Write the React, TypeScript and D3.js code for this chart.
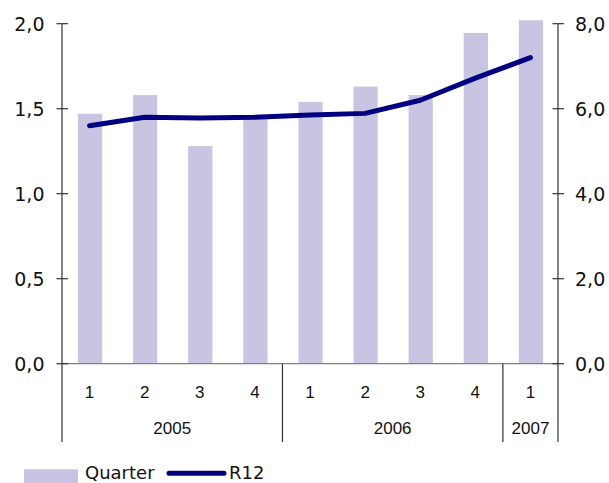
import React from "react";
import * as d3 from "d3";

const quarters = ["1", "2", "3", "4", "1", "2", "3", "4", "1"];
const years = [
  { label: "2005", start: 0, end: 4 },
  { label: "2006", start: 4, end: 8 },
  { label: "2007", start: 8, end: 9 },
];
const quarterValues = [1.47, 1.58, 1.28, 1.45, 1.54, 1.63, 1.58, 1.945, 2.02];
const r12Values = [5.6, 5.8, 5.78, 5.8, 5.85, 5.89, 6.2, 6.72, 7.2];
const leftTicks = [0, 0.5, 1.0, 1.5, 2.0];
const rightTicks = [0, 2, 4, 6, 8];

const W = 609;
const H = 483;
const left = 62;
const right = 558;
const top = 23.7;
const bottom = 363.7;

export default function App() {
  const x = d3
    .scaleBand<number>()
    .domain(d3.range(quarters.length))
    .range([left, right])
    .paddingInner(0)
    .paddingOuter(0);
  const yL = d3.scaleLinear().domain([0, 2]).range([bottom, top]);
  const yR = d3.scaleLinear().domain([0, 8]).range([bottom, top]);
  const barW = x.bandwidth() * 0.44;
  const line = d3
    .line<number>()
    .x((_, i) => (x(i) as number) + x.bandwidth() / 2)
    .y((d) => yR(d));
  const numFont = "'DejaVu Sans', sans-serif";
  const fmt = (v: number, d: number) => v.toFixed(d).replace(".", ",");
  const sepBottom = 442;
  const sepXs = [0, 4, 8, 9].map((i) => left + i * x.step());

  return (
    <svg
      width={W}
      height={H}
      style={{ position: "absolute", left: 0, top: 0, display: "block" }}
    >
      <rect width={W} height={H} fill="#fff" />
      {quarterValues.map((v, i) => (
        <rect
          key={i}
          x={(x(i) as number) + x.bandwidth() / 2 - barW / 2 + 0.5}
          y={yL(v)}
          width={barW}
          height={bottom - yL(v)}
          fill="#c8c4e1"
        />
      ))}
      {/* bottom axis */}
      <line x1={left} x2={right} y1={bottom} y2={bottom} stroke="#808080" strokeWidth={1.3} />
      {/* left axis */}
      <line x1={left} x2={left} y1={top} y2={sepBottom} stroke="#333" strokeWidth={1.2} />
      {leftTicks.map((t) => (
        <g key={"l" + t}>
          <line x1={left - 5.5} x2={left + 6} y1={yL(t)} y2={yL(t)} stroke="#333" strokeWidth={1.2} />
          <text
            x={44.5}
            y={yL(t)}
            dy="0.36em"
            textAnchor="end"
            fontFamily={numFont}
            fontSize={19}
            fill="#111"
          >
            {fmt(t, 1)}
          </text>
        </g>
      ))}
      {/* right axis */}
      <line x1={right} x2={right} y1={top} y2={sepBottom} stroke="#333" strokeWidth={1.2} />
      {rightTicks.map((t) => (
        <g key={"r" + t}>
          <line x1={right - 5.5} x2={right + 6} y1={yR(t)} y2={yR(t)} stroke="#333" strokeWidth={1.2} />
          <text
            x={575}
            y={yR(t)}
            dy="0.36em"
            textAnchor="start"
            fontFamily={numFont}
            fontSize={19}
            fill="#111"
          >
            {fmt(t, 1)}
          </text>
        </g>
      ))}
      {/* separators */}
      {sepXs.slice(1, 3).map((sx, i) => (
        <line key={"s" + i} x1={sx} x2={sx} y1={bottom} y2={sepBottom} stroke="#333" strokeWidth={1.2} />
      ))}
      {quarters.map((q, i) => (
        <text
          key={"q" + i}
          x={(x(i) as number) + x.bandwidth() / 2}
          y={392}
          dy="0.36em"
          textAnchor="middle"
          fontFamily="'Liberation Sans', Arial, sans-serif"
          fontSize={17}
          fill="#111"
        >
          {q}
        </text>
      ))}
      {years.map((yr) => (
        <text
          key={yr.label}
          x={left + ((yr.start + yr.end) / 2) * x.step()}
          y={428}
          dy="0.36em"
          textAnchor="middle"
          fontFamily="'Liberation Sans', Arial, sans-serif"
          fontSize={17}
          fill="#111"
        >
          {yr.label}
        </text>
      ))}
      <path
        d={line(r12Values) as string}
        fill="none"
        stroke="#000080"
        strokeWidth={5}
        strokeLinecap="round"
        strokeLinejoin="round"
      />
      {/* legend */}
      <rect x={24} y={469.3} width={54} height={20} fill="#c8c4e1" />
      <text x={85} y={479} fontFamily={numFont} fontSize={18} fill="#111">
        Quarter
      </text>
      <line x1={169} x2={224} y1={473.3} y2={473.3} stroke="#000080" strokeWidth={5} strokeLinecap="round" />
      <text x={229} y={479} fontFamily={numFont} fontSize={18} fill="#111">
        R12
      </text>
    </svg>
  );
}
